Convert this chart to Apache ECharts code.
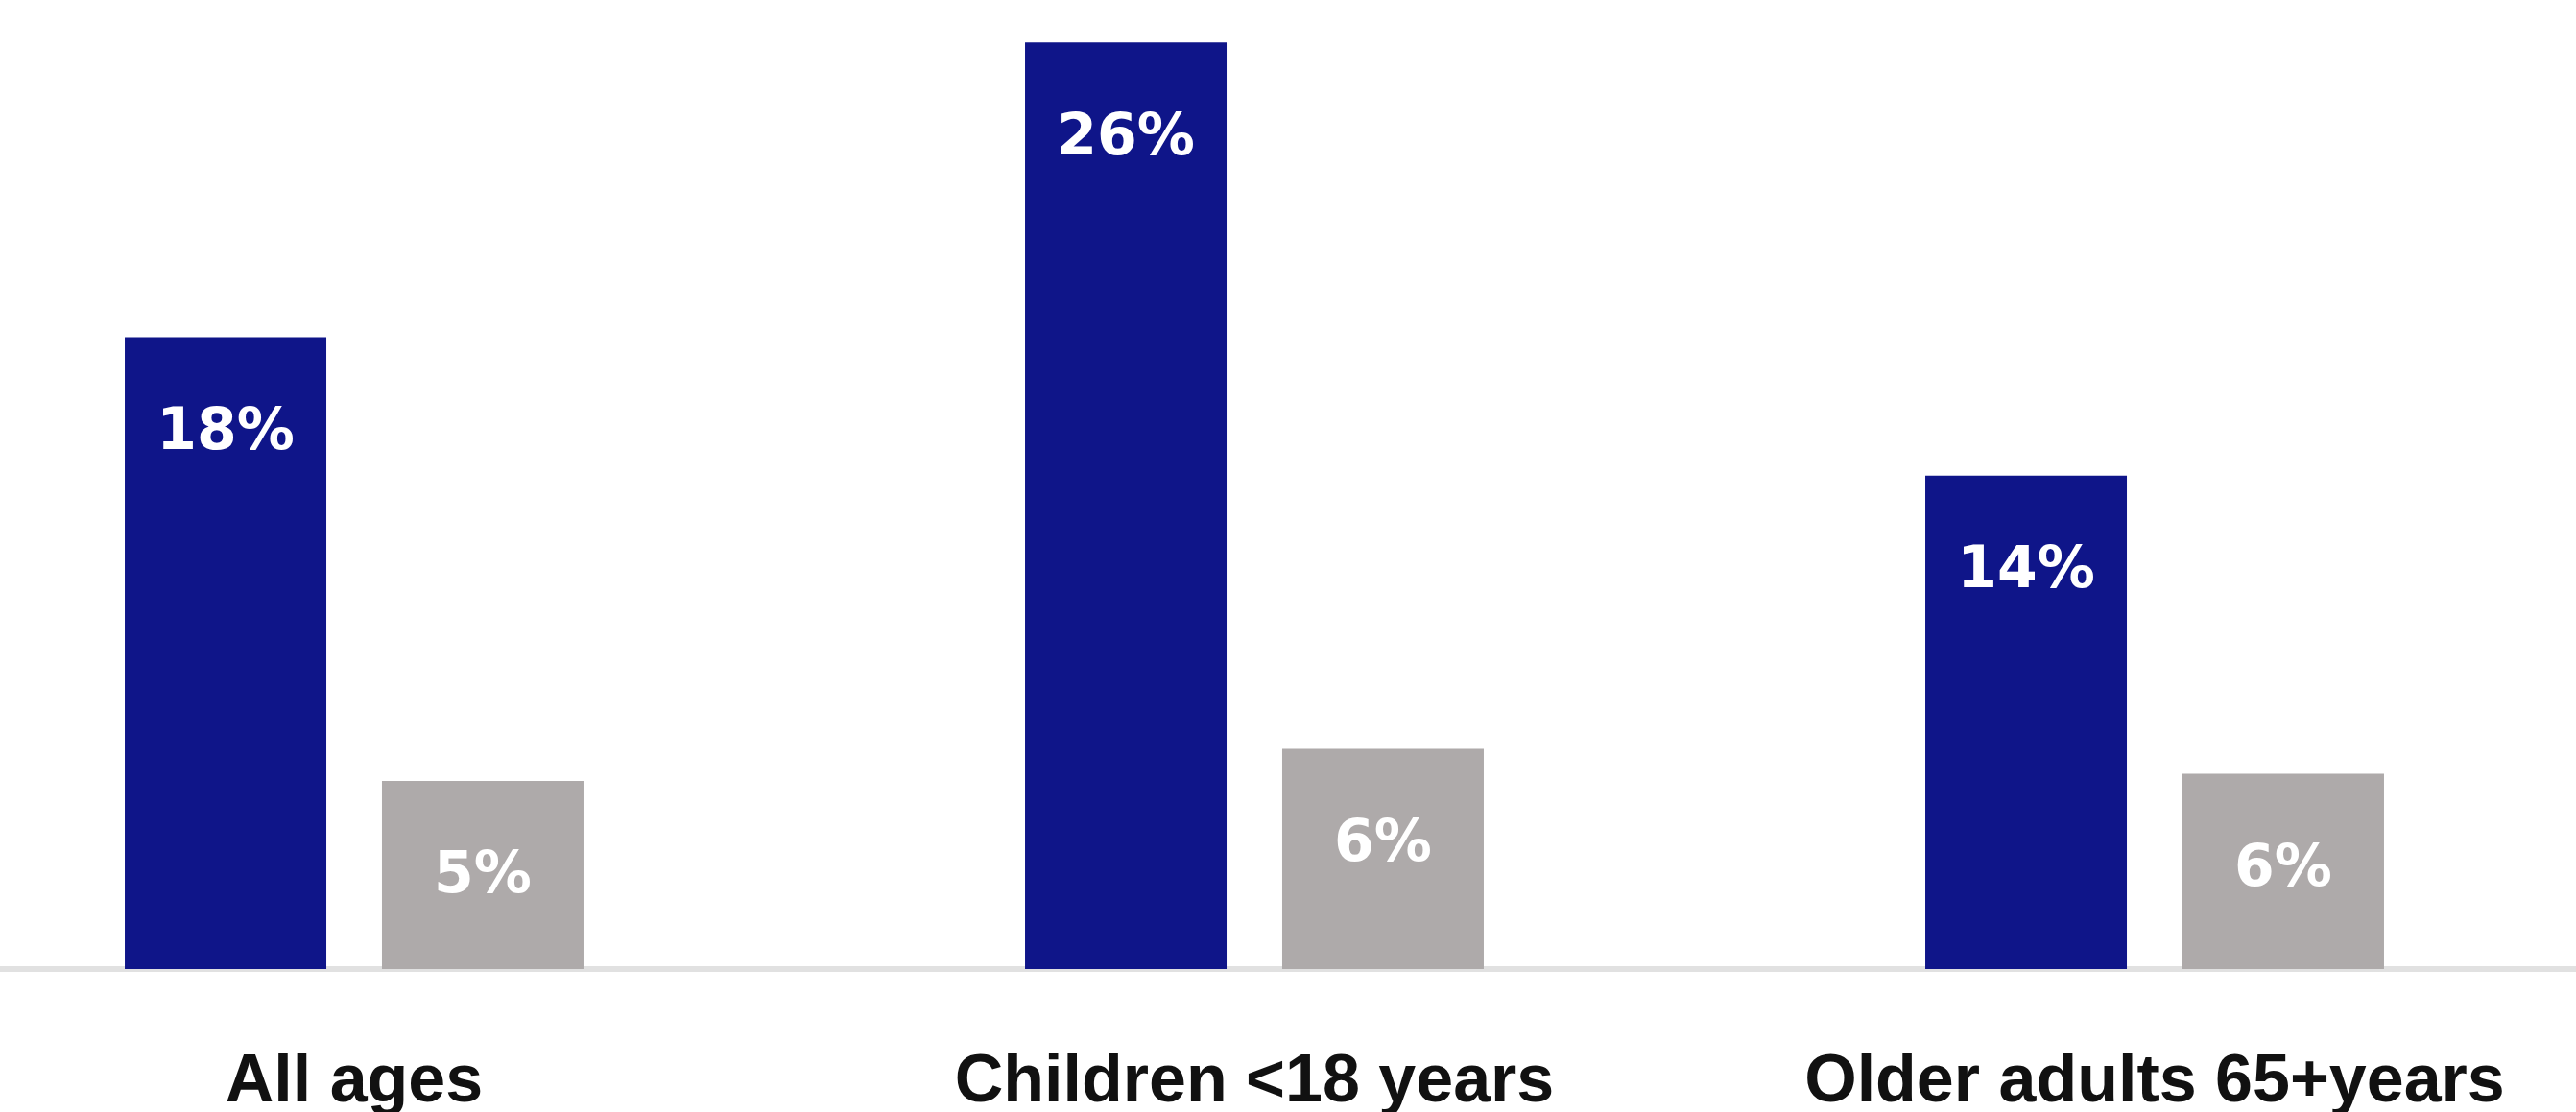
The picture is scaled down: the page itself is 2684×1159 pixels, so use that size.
<!DOCTYPE html>
<html>
<head>
<meta charset="utf-8">
<script src="https://cdn.jsdelivr.net/npm/echarts@6/dist/echarts.min.js"></script>
<style>
html,body{margin:0;padding:0;background:#fff;}
#chart{width:2684px;height:1159px;}
</style>
</head>
<body>
<div id="chart"></div>
<script>
const categories = ['All ages', 'Children <18 years', 'Older adults 65+years'];
const seriesA = [17.8, 26.1, 13.9];
const seriesB = [5.3, 6.2, 5.5];

const chart = echarts.init(document.getElementById('chart'));
const labelStyle = {
  show: true,
  position: ['50%', 101],
  align: 'center',
  verticalAlign: 'middle',
  color: '#ffffff',
  fontFamily: 'DejaVu Sans',
  fontWeight: 'bold',
  fontSize: 60,
  formatter: p => Math.round(p.value) + '%'
};
chart.setOption({
  animation: false,
  backgroundColor: '#ffffff',
  grid: { left: -100, width: 2814, top: 11, height: 999, outerBoundsMode: 'none', containLabel: false },
  xAxis: {
    type: 'category',
    data: categories,
    axisLine: { show: true, lineStyle: { color: '#e1e1e1', width: 6 } },
    axisTick: { show: false },
    axisLabel: {
      interval: 0,
      margin: 84,
      color: '#111111',
      fontFamily: 'Liberation Sans, Arial, sans-serif',
      fontWeight: 'bold',
      fontSize: 70
    }
  },
  yAxis: {
    type: 'value',
    min: 0,
    max: 27,
    show: false,
    splitLine: { show: false }
  },
  series: [
    {
      type: 'bar',
      data: seriesA,
      barWidth: 210,
      barGap: '27.6%',
      itemStyle: { color: '#0F1589' },
      label: labelStyle
    },
    {
      type: 'bar',
      data: seriesB,
      barWidth: 210,
      barGap: '27.6%',
      itemStyle: { color: '#AEAAAA' },
      label: labelStyle
    }
  ]
});
</script>
</body>
</html>
